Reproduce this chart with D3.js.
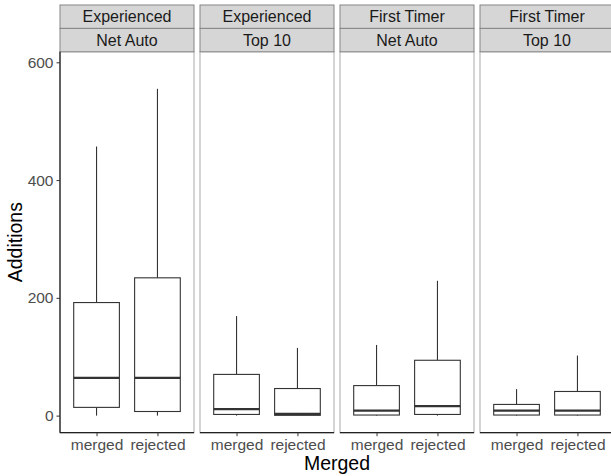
<!DOCTYPE html>
<html>
<head>
<meta charset="utf-8">
<script src="https://cdn.jsdelivr.net/npm/d3@7"></script>
<style>
  body { margin: 0; background: #fff; }
  text { font-family: "Liberation Sans", Arial, sans-serif; }
</style>
</head>
<body>
<svg id="chart" width="611" height="476"></svg>
<script>
// facets
const experience = ["Experienced", "Experienced", "First Timer", "First Timer"];
const source = ["Net Auto", "Top 10", "Net Auto", "Top 10"];
const categories = ["merged", "rejected"];
// box stats per facet: [lower whisker, q1, median, q3, upper whisker]
const mergedStats = [
  [0, 14, 64, 192, 457],
  [0, 2, 11, 70, 169],
  [0, 1, 8.5, 51, 120],
  [0, 1, 8.5, 19, 45]
];
const rejectedStats = [
  [0, 7, 64, 234, 555],
  [0, 0.5, 3, 46, 115],
  [0, 2, 16, 94, 229],
  [0, 1, 8.5, 41, 102]
];
const yTicks = [0, 200, 400, 600];

const svg = d3.select("#chart");
const panelW = 134, gap = 6, left = 60;
const panelTop = 51.7, panelBottom = 432.7;
const stripTop = 5, stripH = 23.4;

const y = d3.scaleLinear().domain([-29, 618]).range([panelBottom, panelTop]);
const x = d3.scalePoint().domain(categories).range([0, panelW]).padding(0.6);
const boxW = x.step() * 0.75;

experience.forEach(function(exp, i) {
  const g = svg.append("g").attr("transform", `translate(${left + i * (panelW + gap)},0)`);

  // panel border
  g.append("rect")
    .attr("x", 0).attr("y", panelTop)
    .attr("width", panelW).attr("height", panelBottom - panelTop)
    .attr("fill", "#fff").attr("stroke", "#bdbdbd").attr("stroke-width", 1.3);

  // strips
  [exp, source[i]].forEach(function(lab, k) {
    g.append("rect")
      .attr("x", 0).attr("y", stripTop + k * stripH)
      .attr("width", panelW).attr("height", stripH)
      .attr("fill", "#d6d6d6").attr("stroke", "#858585").attr("stroke-width", 1);
    g.append("text")
      .attr("x", panelW / 2).attr("y", stripTop + k * stripH + stripH / 2)
      .attr("dy", "0.36em")
      .attr("text-anchor", "middle")
      .attr("font-size", "16px")
      .attr("fill", "#1a1a1a")
      .text(lab);
  });

  const rows = [
    {cat: "merged", s: mergedStats[i]},
    {cat: "rejected", s: rejectedStats[i]}
  ];

  const b = g.selectAll("g.box").data(rows).enter().append("g").attr("class", "box");
  // whiskers
  b.append("line")
    .attr("x1", d => x(d.cat)).attr("x2", d => x(d.cat))
    .attr("y1", d => y(d.s[3])).attr("y2", d => y(d.s[4]))
    .attr("stroke", "#333").attr("stroke-width", 1.1);
  b.append("line")
    .attr("x1", d => x(d.cat)).attr("x2", d => x(d.cat))
    .attr("y1", d => y(d.s[0])).attr("y2", d => y(d.s[1]))
    .attr("stroke", "#333").attr("stroke-width", 1.1);
  b.append("rect")
    .attr("x", d => x(d.cat) - boxW / 2)
    .attr("y", d => y(d.s[3]))
    .attr("width", boxW)
    .attr("height", d => y(d.s[1]) - y(d.s[3]))
    .attr("fill", "#fff").attr("stroke", "#333").attr("stroke-width", 1.1);
  b.append("line")
    .attr("x1", d => x(d.cat) - boxW / 2).attr("x2", d => x(d.cat) + boxW / 2)
    .attr("y1", d => y(d.s[2])).attr("y2", d => y(d.s[2]))
    .attr("stroke", "#333").attr("stroke-width", 2.2);

  // x axis
  const xa = g.append("g").attr("transform", `translate(0,${panelBottom})`)
    .call(d3.axisBottom(x).tickSize(3.5).tickPadding(2.5));
  xa.select(".domain").attr("stroke", "#222").attr("stroke-width", 1.3).attr("d", `M0,0H${panelW}`);
  xa.selectAll(".tick line").attr("stroke", "#333");
  xa.selectAll("text").attr("font-size", "15.5px").attr("fill", "#4d4d4d")
    .style("font-family", "'Liberation Sans', Arial, sans-serif");

  if (i === 0) {
    const ya = g.append("g").call(d3.axisLeft(y).tickValues(yTicks).tickSize(3.5).tickPadding(3));
    ya.select(".domain").attr("stroke", "#222").attr("stroke-width", 1.3).attr("d", `M0,${panelTop}V${panelBottom}`);
    ya.selectAll(".tick line").attr("stroke", "#333");
    ya.selectAll("text").attr("font-size", "15.5px").attr("fill", "#4d4d4d")
      .style("font-family", "'Liberation Sans', Arial, sans-serif");
  }
});

// axis titles
svg.append("text")
  .attr("x", left + (4 * panelW + 3 * gap) / 2).attr("y", 470)
  .attr("text-anchor", "middle").attr("font-size", "19.5px").attr("fill", "#000")
  .text("Merged");
svg.append("text")
  .attr("transform", `translate(22,${(panelTop + panelBottom) / 2}) rotate(-90)`)
  .attr("text-anchor", "middle").attr("font-size", "19.5px").attr("fill", "#000")
  .text("Additions");
</script>
</body>
</html>
